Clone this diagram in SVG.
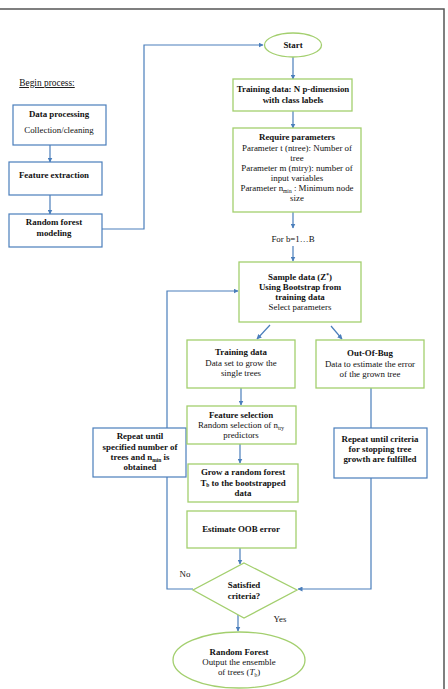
<svg xmlns="http://www.w3.org/2000/svg" width="448" height="689" viewBox="0 0 448 689">
<defs>
<marker id="ah" viewBox="0 0 10 10" refX="9" refY="5" markerWidth="5" markerHeight="5" orient="auto" markerUnits="userSpaceOnUse">
<path d="M0,0 L10,5 L0,10 z" fill="#4a7ebb"/>
</marker>
<style>
.t{font-family:"Liberation Serif","Times New Roman",serif;font-size:8.9px;fill:#111;text-anchor:middle}
.b{font-weight:bold}
.bx{fill:#fff;stroke:#4a7ebb;stroke-width:1.2}
.gx{fill:#fff;stroke:#a3cf6e;stroke-width:1.3}
.c{fill:none;stroke:#4a7ebb;stroke-width:1.2}
.ca{fill:none;stroke:#4a7ebb;stroke-width:1.2;marker-end:url(#ah)}
</style>
</defs>
<rect width="448" height="689" fill="#fff"/>
<g id="frame">
<path d="M0,9 H444 V689" fill="none" stroke="#555" stroke-width="1.5"/>
</g>
<g id="connectors">
<path class="ca" d="M50,145 V162"/>
<path class="ca" d="M50,195 V214"/>
<path class="ca" d="M102,229 H144 V45 H263"/>
<path class="ca" d="M293,57 V79"/>
<path class="ca" d="M293,111 V128"/>
<path class="ca" d="M293,212 V228"/>
<path class="ca" d="M293,246 V261"/>
<path class="ca" d="M270,325 L257,339"/>
<path class="ca" d="M331,326 L342,339"/>
<path class="ca" d="M241,388 V405"/>
<path class="ca" d="M240,444 V463"/>
<path class="ca" d="M240,548 V564"/>
<path class="ca" d="M193,589 H167 V291 H238"/>
<path class="ca" d="M371,388 V589 H298"/>
<path class="ca" d="M238,615 V631"/>
</g>
<g id="begin">
<text class="t" x="47" y="86" style="font-size:9.4px;text-decoration:underline">Begin process:</text>
</g>
<g id="dataproc">
<rect class="bx" x="13" y="105" width="93" height="40"/>
<text class="t b" x="59" y="117">Data processing</text>
<text class="t" x="59" y="133">Collection/cleaning</text>
</g>
<g id="featext">
<rect class="bx" x="9" y="162" width="93" height="33"/>
<text class="t b" x="54" y="178">Feature extraction</text>
</g>
<g id="rfmodel">
<rect class="bx" x="9" y="214" width="93" height="33"/>
<text class="t b" x="54" y="225">Random forest</text>
<text class="t b" x="54" y="236">modeling</text>
</g>
<g id="start">
<ellipse class="gx" cx="293" cy="45" rx="28.5" ry="12"/>
<text class="t b" x="293" y="48">Start</text>
</g>
<g id="trainN">
<rect class="gx" x="233" y="79" width="119" height="32"/>
<text class="t b" x="293" y="92">Training data: N p-dimension</text>
<text class="t b" x="293" y="103">with class labels</text>
</g>
<g id="params">
<rect class="gx" x="233" y="128" width="128" height="84"/>
<text class="t b" x="297" y="140">Require parameters</text>
<text class="t" x="297" y="150.5">Parameter t (ntree): Number of</text>
<text class="t" x="297" y="161">tree</text>
<text class="t" x="297" y="171">Parameter m (mtry): number of</text>
<text class="t" x="297" y="181">input variables</text>
<text class="t" x="297" y="191">Parameter n<tspan font-size="5.5" dy="1.5">min</tspan><tspan dy="-1.5"> : Minimum node</tspan></text>
<text class="t" x="297" y="201">size</text>
</g>
<g id="forb">
<text class="t" x="293" y="242">For b=1…B</text>
</g>
<g id="sample">
<rect class="gx" x="239" y="262" width="122" height="60"/>
<text class="t b" x="300" y="280">Sample data (Z<tspan font-size="5.5" dy="-3">*</tspan><tspan dy="3">)</tspan></text>
<text class="t b" x="300" y="290">Using Bootstrap from</text>
<text class="t b" x="300" y="300">training data</text>
<text class="t" x="300" y="310">Select parameters</text>
</g>
<g id="traindata">
<rect class="gx" x="187" y="340" width="108" height="48"/>
<text class="t b" x="241" y="355">Training data</text>
<text class="t" x="241" y="366">Data set to grow the</text>
<text class="t" x="241" y="376">single trees</text>
</g>
<g id="oob">
<rect class="gx" x="316" y="340" width="108" height="48"/>
<text class="t b" x="370" y="356">Out-Of-Bug</text>
<text class="t" x="370" y="367">Data to estimate the error</text>
<text class="t" x="370" y="377">of the grown tree</text>
</g>
<g id="repeatL">
<rect class="bx" x="93" y="428" width="93" height="49"/>
<text class="t b" x="140" y="439">Repeat until</text>
<text class="t b" x="140" y="450">specified number of</text>
<text class="t b" x="140" y="460">trees and n<tspan font-size="5.5" dy="1.5">min</tspan><tspan dy="-1.5"> is</tspan></text>
<text class="t b" x="140" y="469.5">obtained</text>
</g>
<g id="featsel">
<rect class="gx" x="187" y="406" width="109" height="38"/>
<text class="t b" x="241" y="418">Feature selection</text>
<text class="t" x="241" y="428">Random selection of n<tspan font-size="5.5" dy="1.5">try</tspan></text>
<text class="t" x="241" y="438">predictors</text>
</g>
<g id="repeatR">
<rect class="bx" x="334" y="428" width="93" height="50"/>
<text class="t b" x="380" y="442">Repeat until criteria</text>
<text class="t b" x="380" y="452">for stopping tree</text>
<text class="t b" x="380" y="462">growth are fulfilled</text>
</g>
<g id="grow">
<rect class="gx" x="188" y="464" width="110" height="38"/>
<text class="t b" x="243" y="475">Grow a random forest</text>
<text class="t b" x="243" y="485.5">T<tspan font-size="5.5" dy="1.5">b</tspan><tspan dy="-1.5">  to the bootstrapped</tspan></text>
<text class="t b" x="243" y="496">data</text>
</g>
<g id="estimate">
<rect class="gx" x="187" y="511" width="109" height="37"/>
<text class="t b" x="241" y="532">Estimate OOB error</text>
</g>
<g id="decision">
<polygon class="gx" points="244,563 297,590 244,618 193,590"/>
<text class="t b" x="244" y="588">Satisfied</text>
<text class="t b" x="244" y="599">criteria?</text>
</g>
<g id="labels">
<text class="t" x="185" y="577">No</text>
<text class="t" x="280" y="622">Yes</text>
</g>
<g id="rf">
<ellipse class="gx" cx="239" cy="660" rx="66" ry="28"/>
<text class="t b" x="239" y="655">Random Forest</text>
<text class="t" x="239" y="665">Output the ensemble</text>
<text class="t" x="239" y="675">of trees (<tspan font-style="italic">T</tspan><tspan font-size="5.5" dy="1.5">b</tspan><tspan dy="-1.5">)</tspan></text>
</g>
</svg>
